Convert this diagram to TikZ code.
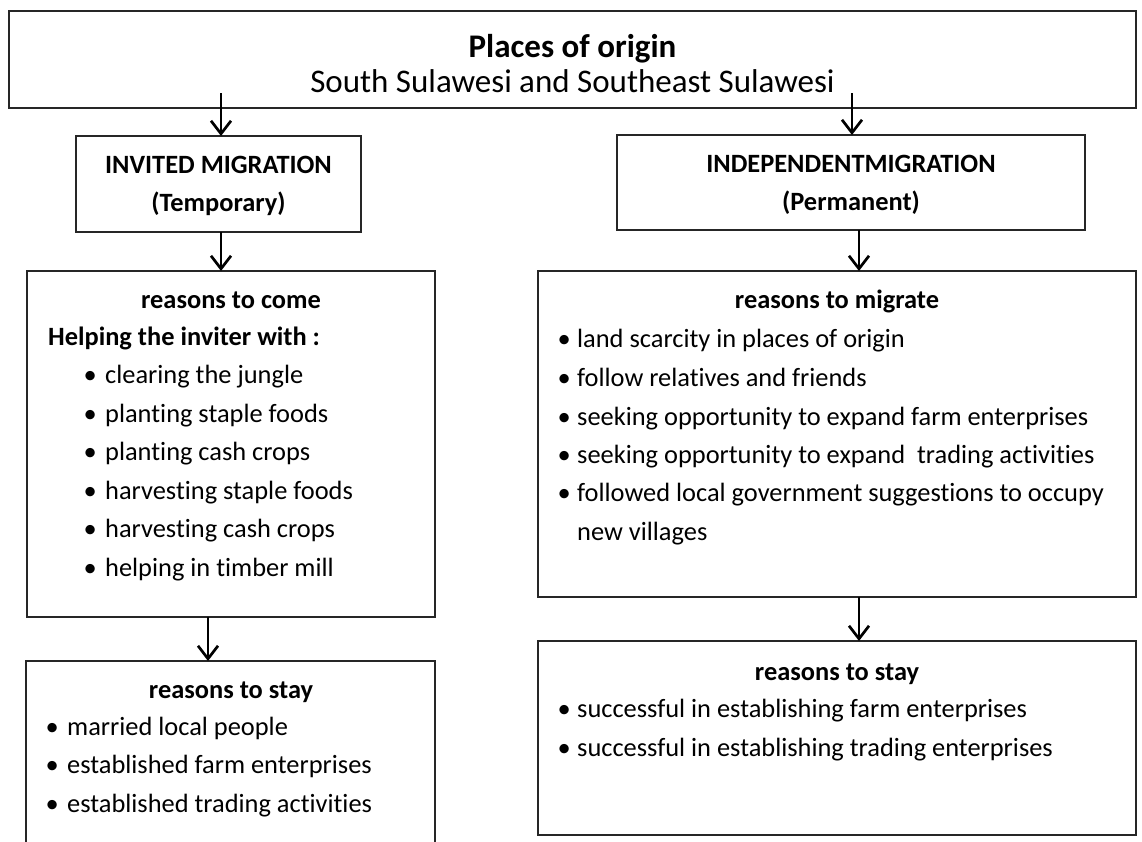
\documentclass[tikz,border=0pt]{standalone}
\usepackage{fontspec}
\setmainfont{Carlito}[Ligatures=NoCommon]
\usetikzlibrary{arrows.meta}

% framed box given by its corners (x1,y1) and (x2,y2)
\newcommand\mkframe[5]{%
  \node[frame, minimum width={#4-#2}, minimum height={#5-#3}]
    (#1) at ({(#2+#4)/2},{(#3+#5)/2}) {};}
% bulleted line: bullet centred in a box of width #1, then the text
\newcommand\bul[2]{\makebox[#1pt]{•}#2}

\begin{document}
\begin{tikzpicture}[x=1pt,y=-1pt,
  frame/.style={draw=black!85, line width=1.5pt, inner sep=0pt, outer sep=0pt, rectangle},
  arr/.style={draw=black, line width=2.7pt, -{Straight Barb[length=13pt,width=20pt]}},
  body/.style={inner sep=0pt, anchor=base west, font=\fontsize{26.4}{30}\selectfont},
  head/.style={inner sep=0pt, anchor=base, font=\fontsize{26.4}{30}\selectfont\bfseries},
  title/.style={inner sep=0pt, anchor=base, font=\fontsize{33}{38}\selectfont}
]
\useasboundingbox (0,0) rectangle (1142,841);

% boxes
\mkframe{origin}{9}{11}{1136}{108}
\mkframe{invited}{76}{136}{361}{232}
\mkframe{indep}{617}{135}{1085}{230}
\mkframe{come}{27}{271}{435}{617}
\mkframe{migrate}{538}{271}{1136}{597}
\mkframe{stayl}{26}{661}{435}{880}
\mkframe{stayr}{538}{641}{1136}{835}

% top box
\node[title, font=\fontsize{33}{38}\selectfont\bfseries] (t1) at (572.5,57) {Places of origin};
\node[title] (t2) at (572.5,92) {South Sulawesi and Southeast Sulawesi};

% migration types
\node[head] (h1) at (218.5,173) {INVITED MIGRATION};
\node[head] (h2) at (218.5,211) {(Temporary)};
\node[head] (h3) at (851,172) {INDEPENDENTMIGRATION};
\node[head] (h4) at (851,210) {(Permanent)};

% reasons to come
\node[head] (c0) at (231,308) {reasons to come};
\node[body, font=\fontsize{26.4}{30}\selectfont\bfseries] (c1) at (48,345) {Helping the inviter with :};
\foreach \t [count=\i] in {clearing the jungle, planting staple foods, planting cash crops,
  harvesting staple foods, harvesting cash crops, helping in timber mill}
  \node[body] (cb\i) at (75,{345+38.5*\i}) {\bul{30}{\t}};

% reasons to migrate
\node[head] (m0) at (837,308) {reasons to migrate};
\node[body] (mb1) at (551,347) {\bul{26}{land scarcity in places of origin}};
\node[body] (mb2) at (551,386) {\bul{26}{follow relatives and friends}};
\node[body] (mb3) at (551,425) {\bul{26}{seeking opportunity to expand farm enterprises}};
\node[body] (mb4) at (551,463) {\bul{26}{seeking opportunity to expand\ \ trading activities}};
\node[body] (mb5) at (551,501) {\bul{26}{followed local government suggestions to occupy}};
\node[body] (mb6) at (577,540) {new villages};

% reasons to stay (left)
\node[head] (sl0) at (231,698) {reasons to stay};
\node[body] (sl1) at (37,735) {\bul{30}{married local people}};
\node[body] (sl2) at (37,773) {\bul{30}{established farm enterprises}};
\node[body] (sl3) at (37,812) {\bul{30}{established trading activities}};

% reasons to stay (right)
\node[head] (sr0) at (837,680) {reasons to stay};
\node[body] (sr1) at (551,717) {\bul{26}{successful in establishing farm enterprises}};
\node[body] (sr2) at (551,756) {\bul{26}{successful in establishing trading enterprises}};

% connectors
\coordinate (s1) at (221,93);
\coordinate (s2) at (852,93);
\coordinate (s3) at (221,0);
\coordinate (s4) at (859,0);
\coordinate (s5) at (208,0);
\draw[arr] (s1) -- (s1 |- invited.north);
\draw[arr] (s2) -- (s2 |- indep.north);
\draw[arr] (s3 |- invited.south) -- (s3 |- come.north);
\draw[arr] (s4 |- indep.south) -- (s4 |- migrate.north);
\draw[arr] (s5 |- come.south) -- (s5 |- stayl.north);
\draw[arr] (s4 |- migrate.south) -- (s4 |- stayr.north);
\end{tikzpicture}
\end{document}
